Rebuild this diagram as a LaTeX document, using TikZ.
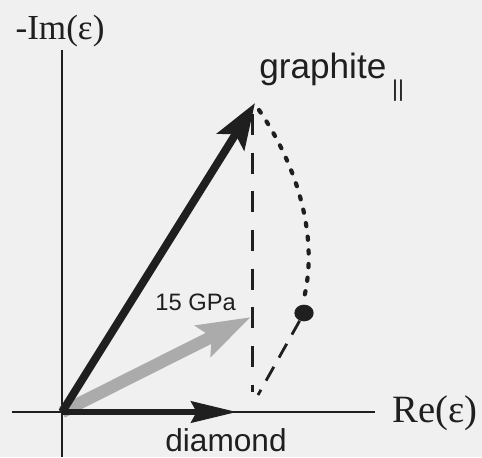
\documentclass[tikz,border=0pt]{standalone}
\usepackage{fontspec}
\setmainfont{Liberation Sans}
\newfontfamily\axisfont{Liberation Serif}
\usetikzlibrary{arrows.meta,positioning,shapes.geometric}
\definecolor{paper}{gray}{0.94}
\definecolor{ink}{gray}{0.12}

\begin{document}
\begin{tikzpicture}[x=0.02cm,y=-0.02cm,
  axis/.style={line width=1.4pt,ink},
  axislabel/.style={inner sep=0pt,font=\axisfont\fontsize{20}{20}\selectfont,text=ink},
  veclabel/.style={inner sep=0pt,font=\fontsize{18}{18}\selectfont,text=ink},
  bigvec/.style={line width=4.5pt,ink,-{Stealth[length=26pt,width=18pt,inset=5pt]}},
  flatvec/.style={line width=3.4pt,ink,-{Stealth[length=26pt,width=12pt,inset=3pt]}},
  pressvec/.style={line width=7pt,gray!66,-{Stealth[length=30pt,width=19pt,inset=5pt]}},
  guide/.style={line width=1.7pt,ink,dash pattern=on 12pt off 10pt}]
  \useasboundingbox[fill=paper] (0,0) rectangle (482,457);

  \coordinate (origin) at (62,412);
  \coordinate (imtop) at (62,50);
  \coordinate (imbottom) at (62,457);
  \coordinate (releft) at (12,412);
  \coordinate (reright) at (375,412);
  \coordinate (graphitetip) at (255,103);
  \coordinate (pressuretip) at (251,317);
  \coordinate (diamondtip) at (237,412);
  \coordinate (guidetop) at (252,114);
  \coordinate (guidebottom) at (252,392);
  \coordinate (curvetop) at (259,110);
  \coordinate (curvelow) at (304,298);
  \coordinate (returnend) at (258,395);

  \node[axislabel] (imlabel) at (60,31) {-Im(ε)};
  \node[axislabel,font=\axisfont\fontsize{22}{22}\selectfont,anchor=west] (relabel) at (392,413) {Re(ε)};
  \node[veclabel,font=\fontsize{20}{20}\selectfont,anchor=west] (graphite) at (259,77) {graphite\,\raisebox{-1.0ex}{\fontsize{13}{13}\selectfont ||}};
  \node[veclabel,font=\fontsize{13.5}{13.5}\selectfont,anchor=west] (pressure) at (155,302) {15 GPa};
  \node[veclabel] (diamond) at (226,440) {diamond};
  \node[ellipse,fill=ink,inner sep=0pt,minimum width=11pt,minimum height=9.5pt] (point) at (304,313) {};

  \draw[axis] (imtop) -- (imbottom);
  \draw[axis] (releft) -- (reright);
  \draw[guide] (guidetop) -- (guidebottom);
  \draw[line width=2.4pt,ink,line cap=round,dash pattern=on 1.8pt off 6pt]
    (curvetop) .. controls (300,170) and (318,240) .. (curvelow);
  \draw[line width=1.6pt,ink,dash pattern=on 9pt off 6pt] (point) -- (returnend);
  \draw[pressvec] (origin) -- (pressuretip);
  \draw[flatvec] (origin) -- (diamondtip);
  \draw[bigvec] (origin) -- (graphitetip);
\end{tikzpicture}
\end{document}
